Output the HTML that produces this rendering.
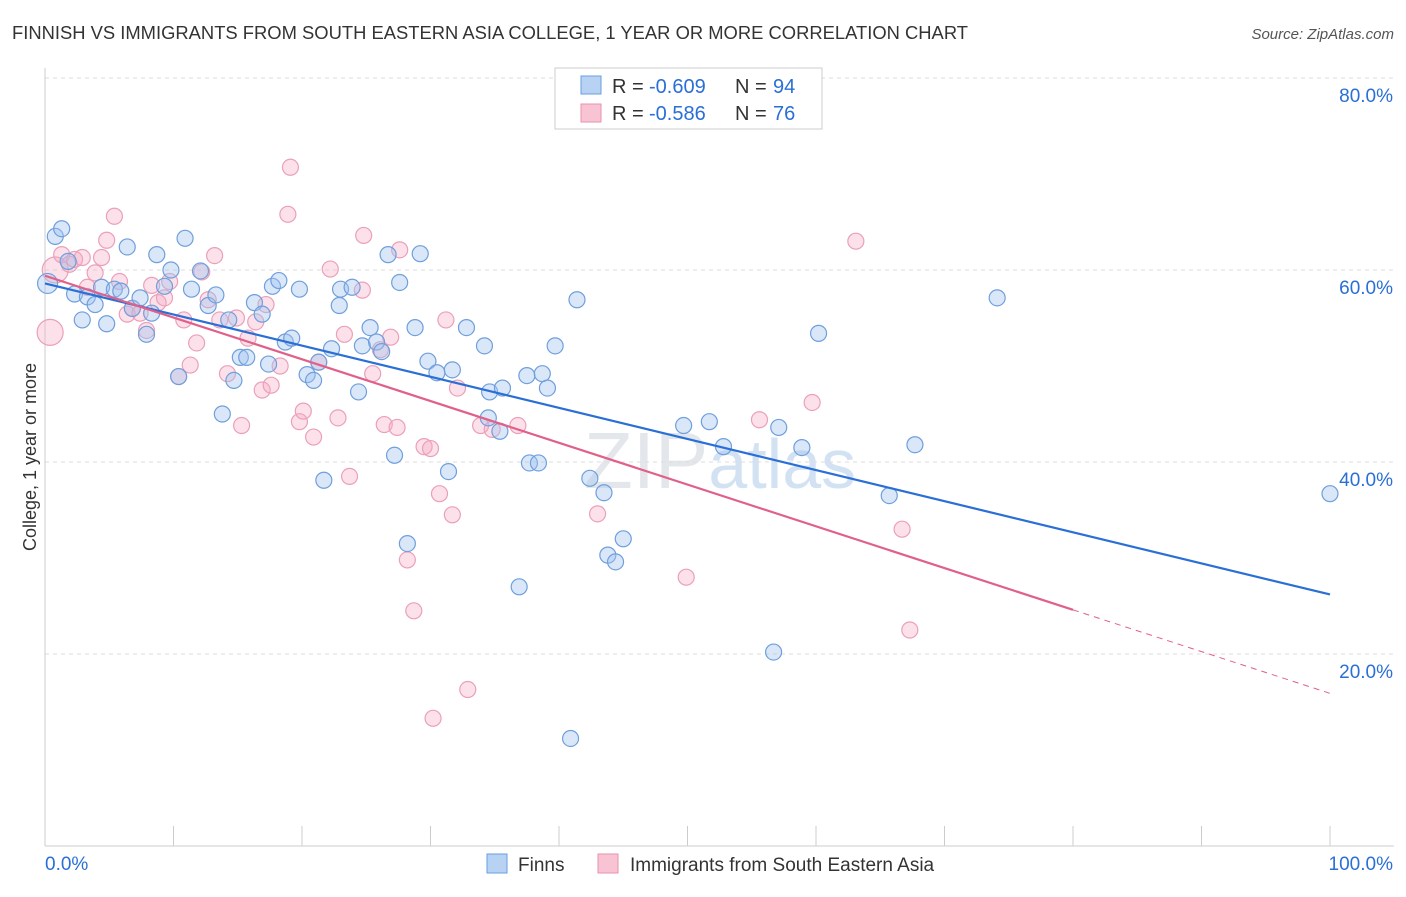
<!DOCTYPE html>
<html><head><meta charset="utf-8"><style>
body{margin:0;background:#fff;font-family:"Liberation Sans",sans-serif}
svg text{font-family:"Liberation Sans",sans-serif}
</style></head><body>
<svg id="c" width="1406" height="892">
<text x="12" y="39" font-size="18" fill="#333" textLength="956" lengthAdjust="spacingAndGlyphs">FINNISH VS IMMIGRANTS FROM SOUTH EASTERN ASIA COLLEGE, 1 YEAR OR MORE CORRELATION CHART</text>
<text x="1394" y="39" font-size="15" fill="#555" text-anchor="end" font-style="italic">Source: ZipAtlas.com</text>
<text x="36" y="457" font-size="18" fill="#333" text-anchor="middle" transform="rotate(-90 36 457)">College, 1 year or more</text>
<text x="720" y="488" font-size="80" fill="#e3e7ec" text-anchor="middle" font-family="Liberation Serif">ZIP<tspan fill="#d3e2f3" font-family="Liberation Sans" font-size="70">atlas</tspan></text>
<g id="grid"></g><g id="pts"></g><g id="trend"></g>
<g>
<rect x="555" y="68" width="267" height="61" fill="#fff" stroke="#ccc"/>
<rect x="581" y="76" width="20" height="18" fill="#b8d2f4" stroke="#6a9ee0"/>
<rect x="581" y="104" width="20" height="18" fill="#f8c4d4" stroke="#e990ae"/>
<text x="612" y="93" font-size="20" fill="#333">R =</text>
<text x="649" y="93" font-size="20" fill="#2a6fd6">-0.609</text>
<text x="735" y="93" font-size="20" fill="#333">N =</text>
<text x="773" y="93" font-size="20" fill="#2a6fd6">94</text>
<text x="612" y="120" font-size="20" fill="#333">R =</text>
<text x="649" y="120" font-size="20" fill="#2a6fd6">-0.586</text>
<text x="735" y="120" font-size="20" fill="#333">N =</text>
<text x="773" y="120" font-size="20" fill="#2a6fd6">76</text>
</g>
<g>
<rect x="487" y="854" width="20" height="19" fill="#b8d2f4" stroke="#6a9ee0"/>
<text x="518" y="871" font-size="19" fill="#333">Finns</text>
<rect x="598" y="854" width="20" height="19" fill="#f8c4d4" stroke="#e990ae"/>
<text x="630" y="871" font-size="19" fill="#333">Immigrants from South Eastern Asia</text>
</g>
</svg>
<script>
const xTicks=[0,100];
const yTicks=[20,40,60,80];
const blueX=[0.2,0.8,1.3,1.8,2.3,2.9,3.3,3.9,4.4,4.8,5.4,5.9,6.4,6.8,7.4,7.9,8.3,8.7,9.3,9.8,10.4,10.9,11.4,12.1,12.7,13.3,13.8,14.3,14.7,15.2,15.7,16.3,16.9,17.4,17.7,18.2,18.7,19.2,19.8,20.4,20.9,21.3,21.7,22.3,22.9,23.0,23.9,24.4,24.7,25.3,25.8,26.2,26.7,27.2,27.6,28.2,28.8,29.2,29.8,30.5,31.4,31.7,32.8,34.2,34.5,34.6,35.4,35.6,36.9,37.5,37.7,38.4,38.7,39.1,39.7,40.9,41.4,42.4,43.5,43.8,44.4,45.0,49.7,51.7,52.8,56.7,57.1,58.9,60.2,65.7,67.7,74.1,100.0];
const blueY=[58.6,63.5,64.3,60.9,57.5,54.8,57.2,56.4,58.2,54.4,58.0,57.8,62.4,56.0,57.1,53.3,55.5,61.6,58.3,60.0,48.9,63.3,58.0,59.9,56.3,57.4,45.0,54.8,48.5,50.9,50.9,56.6,55.4,50.2,58.3,58.9,52.5,52.9,58.0,49.1,48.5,50.4,38.1,51.8,56.3,58.0,58.2,47.3,52.1,54.0,52.5,51.5,61.6,40.7,58.7,31.5,54.0,61.7,50.5,49.3,39.0,49.6,54.0,52.1,44.6,47.3,43.2,47.7,27.0,49.0,39.9,39.9,49.2,47.7,52.1,11.2,56.9,38.3,36.8,30.3,29.6,32.0,43.8,44.2,41.6,20.2,43.6,41.5,53.4,36.5,41.8,57.1,36.7];
const pinkX=[0.4,0.8,1.3,1.9,2.3,2.9,3.3,3.9,4.4,4.8,5.4,5.8,6.4,6.8,7.4,7.9,8.3,8.8,9.3,9.7,10.4,10.8,11.3,11.8,12.2,12.7,13.2,13.6,14.2,14.9,15.3,15.8,16.4,16.9,17.2,17.6,18.3,18.9,19.1,19.8,20.1,20.9,21.3,22.2,22.8,23.3,23.7,24.7,24.8,25.5,26.1,26.4,26.9,27.4,27.6,28.2,28.7,29.5,30.0,30.2,30.7,31.2,31.7,32.1,32.9,33.9,34.8,36.8,43.0,49.9,55.6,59.7,63.1,66.7,67.3];
const pinkY=[53.5,60.0,61.6,60.6,61.1,61.3,58.2,59.7,61.3,63.1,65.6,58.8,55.4,56.0,55.5,53.7,58.4,56.6,57.1,58.8,48.9,54.8,50.1,52.4,59.8,56.9,61.5,54.8,49.2,55.0,43.8,52.9,54.6,47.5,56.4,48.0,50.0,65.8,70.7,44.2,45.3,42.6,50.4,60.1,44.6,53.3,38.5,57.9,63.6,49.2,51.7,43.9,53.0,43.6,62.1,29.8,24.5,41.6,41.4,13.3,36.7,54.8,34.5,47.7,16.3,43.8,43.4,43.8,34.6,28.0,44.4,46.2,63.0,33.0,22.5];
const trendBlue=[58.6,26.2];
const trendPink=[59.4,15.9];
const pinkSolidEnd=80;
const NS='http://www.w3.org/2000/svg';
const X=v=>45+v*12.85, Y=v=>846-v*9.6;
function mk(t,a,p){const e=document.createElementNS(NS,t);for(const k in a)e.setAttribute(k,a[k]);p.appendChild(e);return e;}
const g=document.getElementById('grid');
yTicks.forEach(t=>{
 const l=mk('line',{x1:45,x2:1394,y1:Y(t),y2:Y(t),stroke:'#ddd','stroke-dasharray':'4,4'},g);
 
 
 const tx=mk('text',{x:1393,y:Y(t)+24,'font-size':19,fill:'#2a6fd6','text-anchor':'end'},g);tx.textContent=t.toFixed(1)+'%';
 
 
});
mk('line',{x1:45,x2:45,y1:68,y2:846,stroke:'#ccc'},g);
mk('line',{x1:45,x2:1394,y1:846,y2:846,stroke:'#ccc'},g);
for(let i=0;i<=10;i++){mk('line',{x1:X(i*10),x2:X(i*10),y1:826,y2:846,stroke:'#ccc'},g);}
xTicks.forEach((t,i)=>{const tx=mk('text',{x:i?1393:45,y:870,'font-size':19,fill:'#2a6fd6','text-anchor':i?'end':'start'},g);tx.textContent=t.toFixed(1)+'%';
 
 });
const p=document.getElementById('pts');
pinkX.forEach((x,i)=>{const c=mk('circle',{cx:X(x),cy:Y(pinkY[i]),r:i<2?13:8,fill:'rgba(245,170,196,0.35)',stroke:'#eaa0b9','stroke-width':1.2},p);
 
 });
blueX.forEach((x,i)=>{const c=mk('circle',{cx:X(x),cy:Y(blueY[i]),r:i==0?10:8,fill:'rgba(160,196,240,0.4)',stroke:'#6f9fdc','stroke-width':1.2},p);
 
 });
const tr=document.getElementById('trend');
const tb=mk('line',{x1:X(0),y1:Y(trendBlue[0]),x2:X(100),y2:Y(trendBlue[1]),stroke:'#2a6fd6','stroke-width':2.2},tr);


const py=v=>trendPink[0]+(trendPink[1]-trendPink[0])*v/100;
const tp=mk('line',{x1:X(0),y1:Y(py(0)),x2:X(pinkSolidEnd),y2:Y(py(pinkSolidEnd)),stroke:'#e0608a','stroke-width':2.2},tr);


mk('line',{x1:X(pinkSolidEnd),y1:Y(py(pinkSolidEnd)),x2:X(100),y2:Y(py(100)),stroke:'#e0608a','stroke-width':1,'stroke-dasharray':'6,5'},tr);
</script>
</body></html>
